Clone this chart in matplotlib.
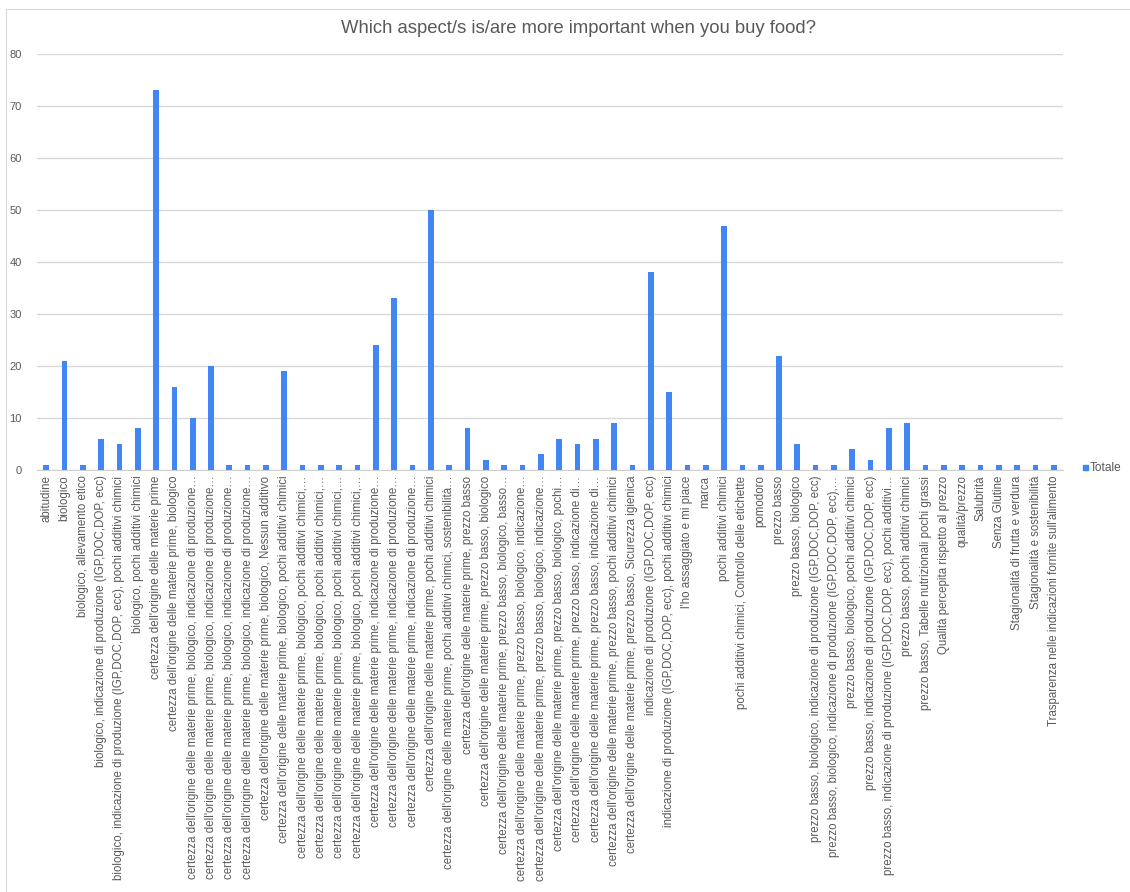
import matplotlib.pyplot as plt
from matplotlib.patches import Rectangle

plt.rcParams['font.family'] = ['Liberation Sans', 'DejaVu Sans']

# Survey answers (x-axis categories, already shortened like in the spreadsheet)
risposte = [
    "abitudine",
    "biologico",
    "biologico, allevamento etico",
    "biologico, indicazione di produzione (IGP,DOC,DOP, ecc)",
    "biologico, indicazione di produzione (IGP,DOC,DOP, ecc), pochi additivi chimici",
    "biologico, pochi additivi chimici",
    "certezza dell'origine delle materie prime",
    "certezza dell'origine delle materie prime, biologico",
    "certezza dell'origine delle materie prime, biologico, indicazione di produzione…",
    "certezza dell'origine delle materie prime, biologico, indicazione di produzione…",
    "certezza dell'origine delle materie prime, biologico, indicazione di produzione…",
    "certezza dell'origine delle materie prime, biologico, indicazione di produzione…",
    "certezza dell'origine delle materie prime, biologico, Nessun additivo",
    "certezza dell'origine delle materie prime, biologico, pochi additivi chimici",
    "certezza dell'origine delle materie prime, biologico, pochi additivi chimici,…",
    "certezza dell'origine delle materie prime, biologico, pochi additivi chimici,…",
    "certezza dell'origine delle materie prime, biologico, pochi additivi chimici,…",
    "certezza dell'origine delle materie prime, biologico, pochi additivi chimici,…",
    "certezza dell'origine delle materie prime, indicazione di produzione…",
    "certezza dell'origine delle materie prime, indicazione di produzione…",
    "certezza dell'origine delle materie prime, indicazione di produzione…",
    "certezza dell'origine delle materie prime, pochi additivi chimici",
    "certezza dell'origine delle materie prime, pochi additivi chimici, sostenibilità…",
    "certezza dell'origine delle materie prime, prezzo basso",
    "certezza dell'origine delle materie prime, prezzo basso, biologico",
    "certezza dell'origine delle materie prime, prezzo basso, biologico, basso…",
    "certezza dell'origine delle materie prime, prezzo basso, biologico, indicazione…",
    "certezza dell'origine delle materie prime, prezzo basso, biologico, indicazione…",
    "certezza dell'origine delle materie prime, prezzo basso, biologico, pochi…",
    "certezza dell'origine delle materie prime, prezzo basso, indicazione di…",
    "certezza dell'origine delle materie prime, prezzo basso, indicazione di…",
    "certezza dell'origine delle materie prime, prezzo basso, pochi additivi chimici",
    "certezza dell'origine delle materie prime, prezzo basso, Sicurezza igienica",
    "indicazione di produzione (IGP,DOC,DOP, ecc)",
    "indicazione di produzione (IGP,DOC,DOP, ecc), pochi additivi chimici",
    "l'ho assaggiato e mi piace",
    "marca",
    "pochi additivi chimici",
    "pochi additivi chimici, Controllo delle etichette",
    "pomodoro",
    "prezzo basso",
    "prezzo basso, biologico",
    "prezzo basso, biologico, indicazione di produzione (IGP,DOC,DOP, ecc)",
    "prezzo basso, biologico, indicazione di produzione (IGP,DOC,DOP, ecc),…",
    "prezzo basso, biologico, pochi additivi chimici",
    "prezzo basso, indicazione di produzione (IGP,DOC,DOP, ecc)",
    "prezzo basso, indicazione di produzione (IGP,DOC,DOP, ecc), pochi additivi…",
    "prezzo basso, pochi additivi chimici",
    "prezzo basso, Tabelle nutrizionali pochi grassi",
    "Qualità percepita rispetto al prezzo",
    "qualità/prezzo",
    "Salubrità",
    "Senza Glutine",
    "Stagionalità di frutta e verdura",
    "Stagionalità e sostenibilità",
    "Trasparenza nelle indicazioni fornite sull'alimento",
]

# number of respondents per answer
totale = [1, 21, 1, 6, 5, 8, 73, 16, 10, 20,
          1, 1, 1, 19, 1, 1, 1, 1, 24, 33,
          1, 50, 1, 8, 2, 1, 1, 3, 6, 5,
          6, 9, 1, 38, 15, 1, 1, 47, 1, 1,
          22, 5, 1, 1, 4, 2, 8, 9, 1, 1,
          1, 1, 1, 1, 1, 1]

blu = '#4285f4'
grigio = '#595959'

fig = plt.figure(figsize=(11.3, 8.92), dpi=100)
ax = fig.add_axes([0.0327, 0.4731, 0.908, 0.4664])

x = range(len(risposte))
ax.bar(x, totale, width=0.31, color=blu, zorder=3)

ax.set_xlim(-0.5, len(risposte) - 0.5)
ax.set_ylim(0, 80)
ax.set_yticks(range(0, 81, 10))
ax.grid(axis='y', color='#d9d9d9', linewidth=1, zorder=0)

ax.set_xticks(list(x))
ax.set_xticklabels(risposte, rotation=90, fontsize=8.3, color=grigio)
ax.tick_params(axis='x', length=0, pad=4)
ax.tick_params(axis='y', length=0, pad=11, labelsize=8, labelcolor=grigio)

for side in ['top', 'right', 'left']:
    ax.spines[side].set_visible(False)
ax.spines['bottom'].set_color('#d0d0d0')

fig.text(0.512, 0.9686, "Which aspect/s is/are more important when you buy food?",
         ha='center', va='center', fontsize=13.3, color=grigio)

# legend entry on the right
fig.patches.append(Rectangle((1083 / 1130, 1 - 470 / 892), 5 / 1130, 5 / 892,
                             transform=fig.transFigure, color=blu, figure=fig))
fig.text(1090 / 1130, 1 - 467.5 / 892, "Totale", ha='left', va='center',
         fontsize=8.6, color=grigio)

# chart frame
fig.patches.append(Rectangle((6 / 1130, -0.05), 1.1, 1 - 9 / 892 + 0.05,
                             transform=fig.transFigure, fill=False,
                             edgecolor='#d9d9d9', linewidth=0.8, figure=fig))

fig.savefig('out.png', dpi=100)
